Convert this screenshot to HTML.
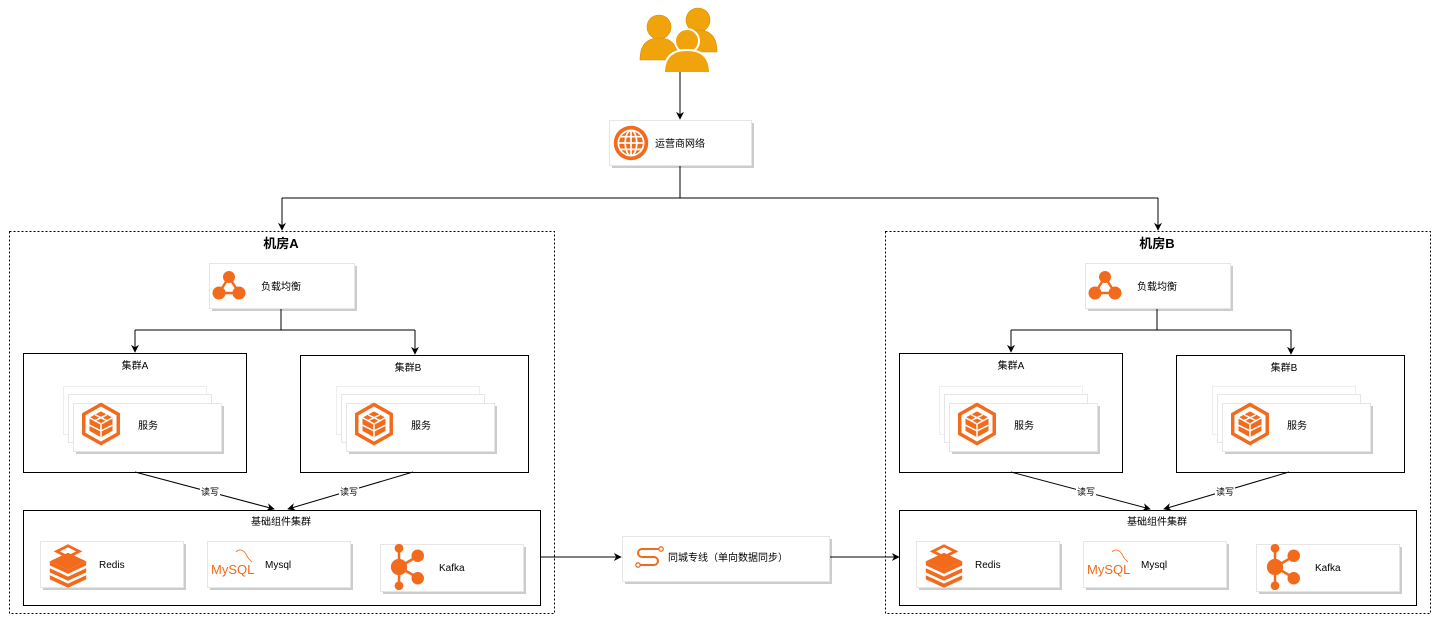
<!DOCTYPE html>
<html><head><meta charset="utf-8"><style>
html,body{margin:0;padding:0;background:#fff;width:1440px;height:622px;overflow:hidden}
svg text{font-family:"Liberation Sans","Noto Sans CJK SC",sans-serif;fill:#000}
</style></head><body>
<svg width="1440" height="622" viewBox="0 0 1440 622" xmlns="http://www.w3.org/2000/svg">
<defs>
<marker id="ar" viewBox="0 0 10 10" refX="9" refY="5" markerWidth="8" markerHeight="8" orient="auto"><path d="M0,0 L10,5 L0,10 L3,5z" fill="#000"/></marker>
<g id="cube">
<polygon points="0,-17 15,-8.5 15,8.5 0,17 -15,8.5 -15,-8.5" fill="none" stroke="#f26a1b" stroke-width="3"/>
<polygon points="0,-11 10,-5.5 10,6 0,11.5 -10,6 -10,-5.5" fill="#f26a1b"/>
<path d="M-10,-5.5 L0,0 L10,-5.5 M0,0 V11.5 M-5,-8 L5,-3 M5,-8 L-5,-3 M-10,1 L0,6 L10,1" stroke="#fff" stroke-width="1.3" fill="none"/>
</g>
<g id="lb">
<line x1="0" y1="-9" x2="-10" y2="7" stroke="#f26a1b" stroke-width="2.5"/>
<line x1="0" y1="-9" x2="10" y2="7" stroke="#f26a1b" stroke-width="2.5"/>
<line x1="-10" y1="7" x2="10" y2="7" stroke="#f26a1b" stroke-width="2.5"/>
<circle cx="0" cy="-9" r="6" fill="#f26a1b"/><circle cx="-10" cy="7" r="6.5" fill="#f26a1b"/><circle cx="10" cy="7" r="6.5" fill="#f26a1b"/>
</g>
<g id="redis">
<path d="M-13,-2 L0,-8 L13,-2 L0,4z" fill="#f26a1b"/>
<path d="M-13,3 L0,9 L13,3 L13,6 L0,12 L-13,6z" fill="#f26a1b"/>
<path d="M-13,-2 L0,4 L13,-2 L13,1 L0,7 L-13,1z" fill="#f26a1b"/>
<path d="M-13,8 L0,14 L13,8 L13,11 L0,17 L-13,11z" fill="#f26a1b"/>
<path d="M-8,-9 L0,-13 L8,-9 L0,-5z" fill="none" stroke="#f26a1b" stroke-width="2"/>
</g>
<g id="kafka">
<line x1="0" y1="0" x2="0" y2="-14" stroke="#f26a1b" stroke-width="2"/>
<line x1="0" y1="0" x2="0" y2="14" stroke="#f26a1b" stroke-width="2"/>
<line x1="0" y1="0" x2="14" y2="-8" stroke="#f26a1b" stroke-width="2"/>
<line x1="0" y1="0" x2="14" y2="8" stroke="#f26a1b" stroke-width="2"/>
<circle cx="0" cy="0" r="6.5" fill="#f26a1b"/><circle cx="0" cy="-15" r="3.5" fill="#f26a1b"/><circle cx="0" cy="15" r="3.5" fill="#f26a1b"/>
<circle cx="15" cy="-9" r="5" fill="#f26a1b"/><circle cx="15" cy="9" r="5" fill="#f26a1b"/>
</g>
<g id="room">
<rect x="9.5" y="231.5" width="545" height="382" fill="none" stroke="#000" stroke-dasharray="2,2"/>
<text x="281" y="248" font-size="13" font-weight="bold" text-anchor="middle">机房A</text>
<rect x="212" y="266" width="145" height="45" fill="#ccc"/>
<rect x="209.5" y="263.5" width="145" height="45" fill="#fff" stroke="#e6e6e6"/>
<use href="#lb" x="229" y="286"/>
<text x="281" y="290" font-size="10" text-anchor="middle">负载均衡</text>
<path d="M281,309 V330 H135 M281,330 H415" fill="none" stroke="#000"/>
<path d="M135,330 V352" stroke="#000" marker-end="url(#ar)"/>
<path d="M415,330 V354" stroke="#000" marker-end="url(#ar)"/>
<rect x="23.5" y="353.5" width="223" height="119" fill="#fff" stroke="#000"/>
<text x="135" y="369" font-size="10" text-anchor="middle">集群A</text>
<rect x="300.5" y="355.5" width="228" height="117" fill="#fff" stroke="#000"/>
<text x="408" y="371" font-size="10" text-anchor="middle">集群B</text>
<g id="svc">
<rect x="63.5" y="386.5" width="143" height="48" fill="#fff" stroke="#eee"/>
<rect x="68.5" y="394.5" width="143" height="48" fill="#fff" stroke="#e6e6e6"/>
<rect x="76" y="406" width="148" height="48" fill="#ccc"/>
<rect x="73.5" y="403.5" width="148" height="48" fill="#fff" stroke="#e6e6e6"/>
<g transform="translate(101,424) scale(1.15)"><use href="#cube"/></g>
<text x="148" y="429" font-size="10" text-anchor="middle">服务</text>
</g>
<use href="#svc" x="273" y="0"/>
<line x1="135" y1="472" x2="274" y2="509" stroke="#000" marker-end="url(#ar)"/>
<line x1="413" y1="472" x2="288" y2="509" stroke="#000" marker-end="url(#ar)"/>
<rect x="200" y="486" width="20" height="12" fill="#fff"/>
<text x="210" y="495" font-size="9" text-anchor="middle">读写</text>
<rect x="339" y="486" width="20" height="12" fill="#fff"/>
<text x="349" y="495" font-size="9" text-anchor="middle">读写</text>
<rect x="23.5" y="510.5" width="517" height="95" fill="#fff" stroke="#000"/>
<text x="281" y="525" font-size="10" text-anchor="middle">基础组件集群</text>
<rect x="43" y="544" width="143" height="46" fill="#ccc"/>
<rect x="40.5" y="541.5" width="143" height="46" fill="#fff" stroke="#e6e6e6"/>
<g transform="translate(68,564) scale(1.4)"><use href="#redis"/></g>
<text x="99" y="568" font-size="10">Redis</text>
<rect x="210" y="544" width="143" height="46" fill="#ccc"/>
<rect x="207.5" y="541.5" width="143" height="46" fill="#fff" stroke="#e6e6e6"/>
<text x="211" y="574" font-size="13" style="fill:#f26a1b">MySQL</text>
<path d="M236,552 q5,-5 10,2 q2,5 6,8" fill="none" stroke="#f26a1b" stroke-width="0.8"/>
<text x="265" y="568" font-size="10">Mysql</text>
<rect x="383" y="547" width="143" height="47" fill="#ccc"/>
<rect x="380.5" y="544.5" width="143" height="47" fill="#fff" stroke="#e6e6e6"/>
<g transform="translate(399,567) scale(1.25)"><use href="#kafka"/></g>
<text x="439" y="571" font-size="10">Kafka</text>
</g>
</defs>

<g fill="#f0a30a" stroke="#d98e00" stroke-width="0.6">
<circle cx="659" cy="27" r="12"/><path d="M640,60 q0,-22 19,-22 q19,0 19,22z"/>
<circle cx="698" cy="20" r="12"/><path d="M679,52 q0,-22 19,-22 q19,0 19,22z"/>
<circle cx="687" cy="41" r="12" stroke="#fff" stroke-width="2"/><path d="M664,73 q0,-23 23,-23 q23,0 23,23z" stroke="#fff" stroke-width="2"/>
</g>
<line x1="680" y1="72" x2="680" y2="119" stroke="#000" marker-end="url(#ar)"/>
<rect x="612" y="123" width="142" height="45" fill="#ccc"/>
<rect x="609.5" y="120.5" width="142" height="45" fill="#fff" stroke="#e6e6e6"/>
<g transform="translate(631,143) scale(1.15)" fill="none">
<circle r="15" fill="#f26a1b" stroke="none"/>
<g stroke="#fff" stroke-width="1.5"><circle r="11"/><ellipse rx="5" ry="11"/><line x1="0" y1="-11" x2="0" y2="11"/><line x1="-11" y1="0" x2="11" y2="0"/><line x1="-9.5" y1="-5.5" x2="9.5" y2="-5.5"/><line x1="-9.5" y1="5.5" x2="9.5" y2="5.5"/></g>
</g>
<text x="680" y="147" font-size="10" text-anchor="middle">运营商网络</text>
<path d="M680,166 V198 H282 M680,198 H1158" fill="none" stroke="#000"/>
<line x1="282" y1="198" x2="282" y2="230" stroke="#000" marker-end="url(#ar)"/>
<line x1="1158" y1="198" x2="1158" y2="230" stroke="#000" marker-end="url(#ar)"/>

<use href="#room"/>
<g transform="translate(876,0)"><use href="#room"/></g>
<rect x="1130" y="235" width="60" height="17" fill="#fff"/>
<text x="1157" y="248" font-size="13" font-weight="bold" text-anchor="middle">机房B</text>

<line x1="541" y1="557" x2="621" y2="557" stroke="#000" marker-end="url(#ar)"/>
<rect x="625" y="539" width="207" height="45" fill="#ccc"/>
<rect x="622.5" y="536.5" width="207" height="45" fill="#fff" stroke="#e6e6e6"/>
<path d="M659,549 H642 a4,4 0 0 0 0,8 H654 a4,4 0 0 1 0,8 H640" fill="none" stroke="#f26a1b" stroke-width="2"/>
<circle cx="661" cy="549" r="2.2" fill="#fff" stroke="#f26a1b" stroke-width="1.3"/>
<circle cx="638" cy="565" r="2.2" fill="#fff" stroke="#f26a1b" stroke-width="1.3"/>
<text x="668" y="561" font-size="10">同城专线（单向数据同步）</text>
<line x1="830" y1="557" x2="899" y2="557" stroke="#000" marker-end="url(#ar)"/>
</svg>
</body></html>
